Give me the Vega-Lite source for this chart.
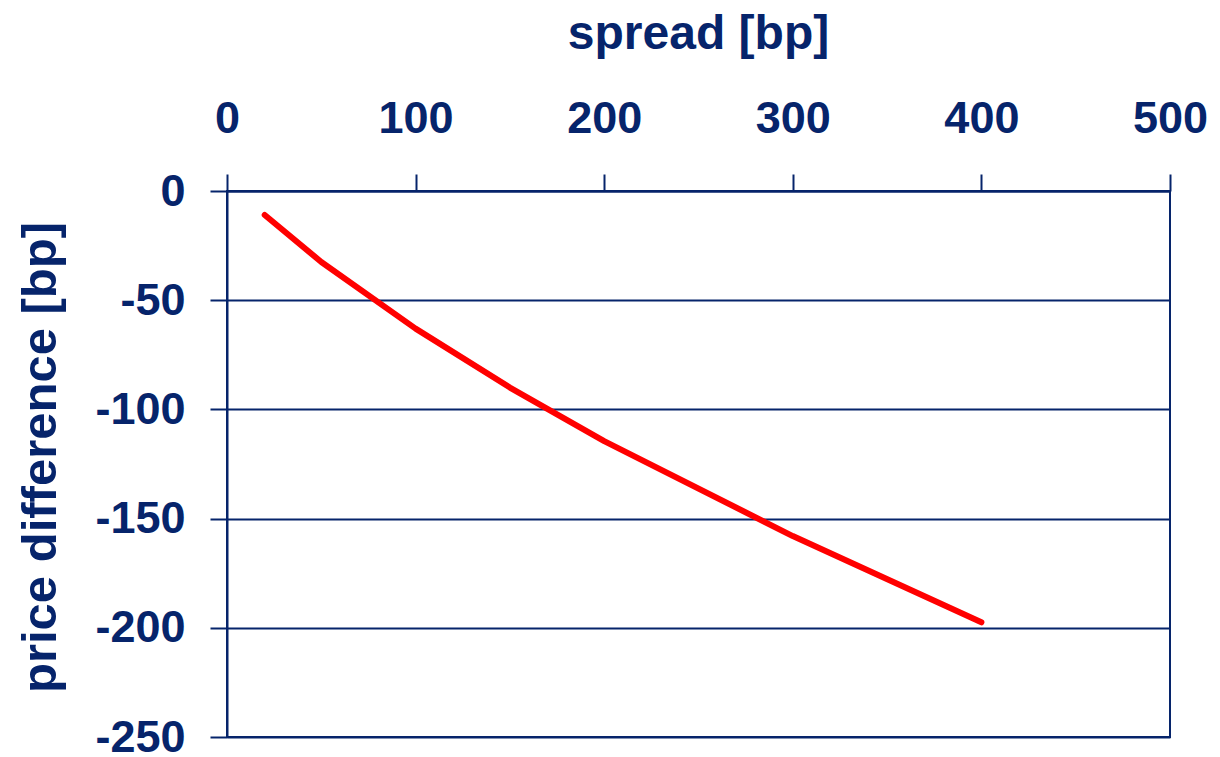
{
  "$schema": "https://vega.github.io/schema/vega-lite/v6.json",
  "autosize": "none",
  "width": 943,
  "height": 546,
  "padding": {"left": 227, "top": 191, "right": 50, "bottom": 20},
  "background": "white",
  "config": {
    "view": {"stroke": "#06246b", "strokeWidth": 2},
    "axis": {
      "labelFont": "Liberation Sans",
      "titleFont": "Liberation Sans",
      "labelFontWeight": "bold",
      "titleFontWeight": "bold",
      "labelColor": "#06246b",
      "titleColor": "#06246b",
      "domainColor": "#06246b",
      "tickColor": "#06246b",
      "gridColor": "#06246b",
      "domainWidth": 2,
      "tickWidth": 2,
      "gridWidth": 2,
      "gridOpacity": 1,
      "tickSize": 17,
      "labelFontSize": 45,
      "titleFontSize": 48,
      "labelFlush": false,
      "labelOverlap": false,
      "labelBound": false
    }
  },
  "data": {
    "values": [
      {"spread": 20, "diff": -11},
      {"spread": 50, "diff": -32.5},
      {"spread": 100, "diff": -63},
      {"spread": 150, "diff": -90},
      {"spread": 200, "diff": -114.5},
      {"spread": 300, "diff": -158},
      {"spread": 400, "diff": -197.5}
    ]
  },
  "mark": {"type": "line", "color": "#ff0000", "strokeWidth": 6, "strokeCap": "round", "strokeJoin": "round"},
  "encoding": {
    "x": {
      "field": "spread",
      "type": "quantitative",
      "scale": {"domain": [0, 500], "nice": false, "zero": false},
      "axis": {
        "orient": "top",
        "title": "spread [bp]",
        "values": [0, 100, 200, 300, 400, 500],
        "grid": false,
        "labelBaseline": "alphabetic",
        "labelPadding": 42,
        "titleX": 471,
        "titleY": -143,
        "titleBaseline": "alphabetic",
        "titleAlign": "center"
      }
    },
    "y": {
      "field": "diff",
      "type": "quantitative",
      "scale": {"domain": [-250, 0], "nice": false, "zero": false},
      "axis": {
        "title": "price difference [bp]",
        "values": [-250, -200, -150, -100, -50, 0],
        "labelExpr": "'' + datum.value",
        "grid": true,
        "labelPadding": 25,
        "titleFontSize": 49,
        "titleAngle": -90,
        "titleX": -172,
        "titleY": 266,
        "titleBaseline": "alphabetic",
        "titleAlign": "center"
      }
    }
  }
}
